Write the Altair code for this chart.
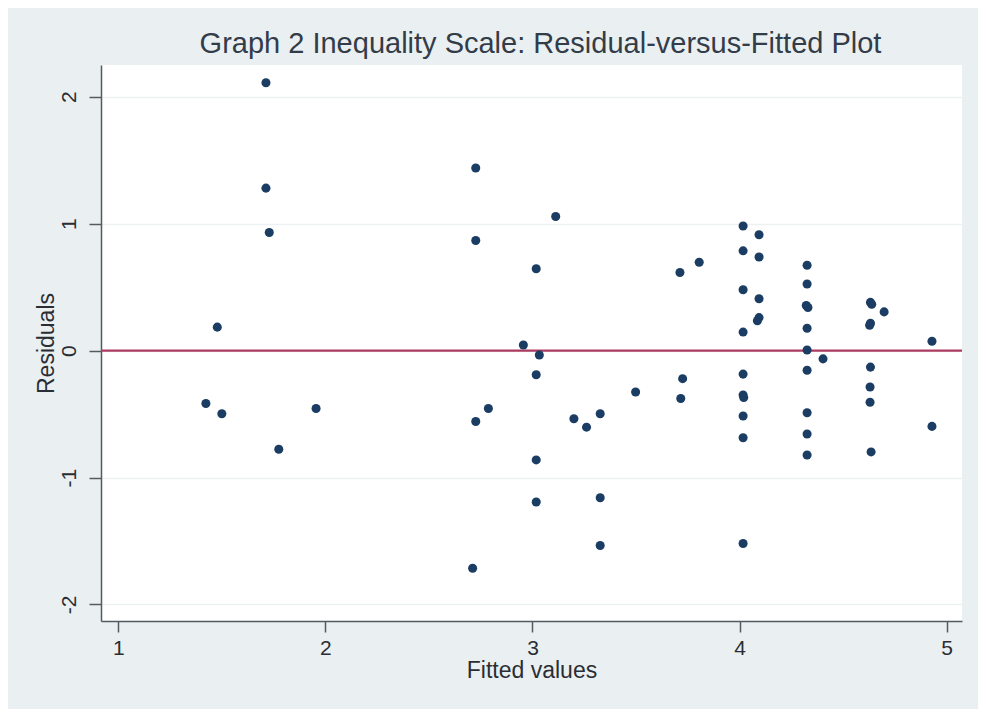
import altair as alt
import pandas as pd

# Fitted values (x) and residuals (y)
fitted = [
    1.713, 1.713, 1.729, 1.478, 1.423, 1.500, 1.955, 1.775,
    2.726, 2.726, 3.112, 3.018, 3.712, 3.805, 2.956, 3.033, 3.018,
    2.787, 2.726, 3.200, 3.261, 3.327, 3.498, 3.725, 3.716,
    3.018, 3.018, 3.327, 3.327, 2.711,
    4.017, 4.017, 4.017, 4.017, 4.017, 4.017, 4.020, 4.017, 4.017, 4.017,
    4.094, 4.094, 4.094, 4.094, 4.086,
    4.326, 4.326, 4.322, 4.330, 4.326, 4.326, 4.326, 4.326, 4.326, 4.326,
    4.403,
    4.632, 4.638, 4.632, 4.628, 4.632, 4.630, 4.630, 4.635,
    4.698,
    4.929, 4.929,
]
residuals = [
    2.11, 1.28, 0.93, 0.185, -0.416, -0.497, -0.456, -0.777,
    1.438, 0.867, 1.057, 0.645, 0.615, 0.696, 0.044, -0.035, -0.19,
    -0.456, -0.558, -0.537, -0.603, -0.497, -0.326, -0.221, -0.377,
    -0.861, -1.192, -1.159, -1.535, -1.715,
    0.982, 0.786, 0.479, 0.146, -0.185, -0.35, -0.37, -0.515, -0.687, -1.519,
    0.913, 0.738, 0.408, 0.26, 0.235,
    0.672, 0.525, 0.355, 0.34, 0.176, 0.005, -0.155, -0.49, -0.657, -0.822,
    -0.065,
    0.38, 0.365, 0.215, 0.2, -0.13, -0.287, -0.407, -0.798,
    0.305,
    0.074, -0.597,
]
x_ticks = [1, 2, 3, 4, 5]
y_ticks = [-2, -1, 0, 1, 2]
ref_line = [0]

df = pd.DataFrame({"fitted": fitted, "resid": residuals})
ref_df = pd.DataFrame({"y": ref_line})

FONT = "Liberation Sans"
AXIS_COL = "#555a60"
TEXT_COL = "#2a2e34"

x_scale = alt.Scale(domain=[0.9165, 5.074], nice=False, zero=False)
y_scale = alt.Scale(domain=[-2.13, 2.25], nice=False, zero=False)

x_axis = alt.Axis(
    values=x_ticks, labelExpr="'' + datum.value", title="Fitted values",
    grid=False, tickSize=11, tickWidth=1.5, tickColor=AXIS_COL,
    domainColor=AXIS_COL, domainWidth=1.5,
    labelFontSize=21, labelFont=FONT, labelColor=TEXT_COL, labelPadding=5,
    titleFontSize=23, titleFont=FONT, titleColor=TEXT_COL, titleFontWeight="normal",
    titlePadding=1,
)
y_axis = alt.Axis(
    values=y_ticks, labelExpr="'' + datum.value", title="Residuals",
    grid=True, gridColor="#edf1f1", gridWidth=1.5,
    tickSize=12, tickWidth=1.5, tickColor=AXIS_COL,
    domainColor=AXIS_COL, domainWidth=1.5,
    labelAngle=270, labelAlign="center", labelBaseline="bottom",
    labelFontSize=21, labelFont=FONT, labelColor=TEXT_COL, labelPadding=10,
    titleFontSize=23, titleFont=FONT, titleColor=TEXT_COL, titleFontWeight="normal",
    titlePadding=0,
)

base_points = alt.Chart(df).mark_circle(size=82, opacity=1, color="#1b3d63").encode(
    x=alt.X("fitted:Q", scale=x_scale, axis=x_axis),
    y=alt.Y("resid:Q", scale=y_scale, axis=y_axis),
)

rule = alt.Chart(ref_df).mark_rule(color="#ad3a60", strokeWidth=2.2).encode(
    y=alt.Y("y:Q", scale=y_scale),
)

chart = alt.layer(rule, base_points).properties(
    width=861,
    height=556,
    title=alt.TitleParams(
        text="Graph 2 Inequality Scale: Residual-versus-Fitted Plot",
        fontSize=29, font=FONT, color="#333c49", fontWeight="normal",
        anchor="middle", offset=6, dx=9,
    ),
    autosize=alt.AutoSizeParams(type="none"),
    padding={"left": 93, "top": 57, "right": 16, "bottom": 88},
    background="#eaf0f1",
).configure_view(
    stroke=None, fill="white",
)

chart.save("out.html", embed_options={"renderer": "svg", "actions": False})
